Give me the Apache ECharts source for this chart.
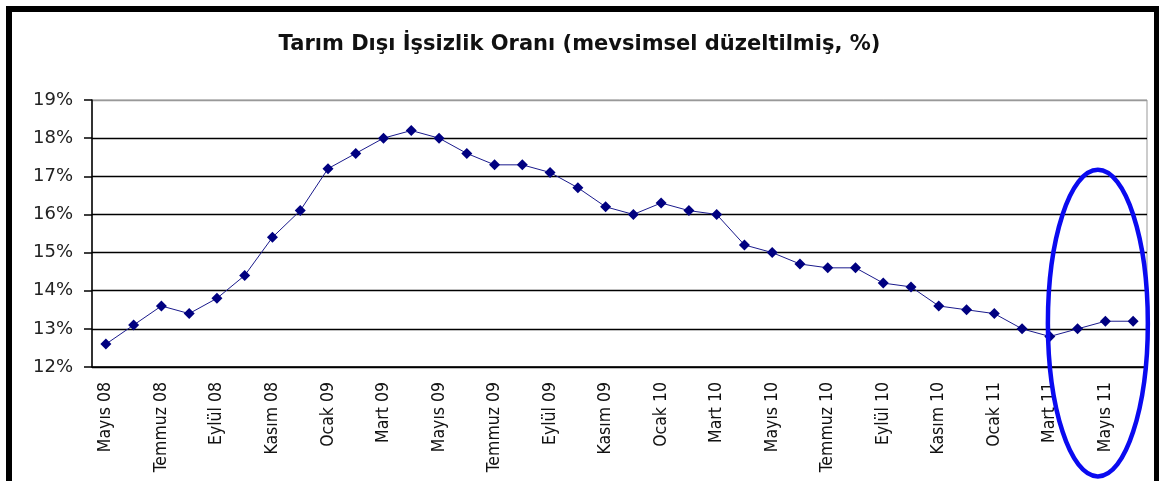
<!DOCTYPE html>
<html>
<head>
<meta charset="utf-8">
<script src="https://cdn.jsdelivr.net/npm/echarts@6/dist/echarts.min.js"></script>
<style>
  html, body { margin: 0; padding: 0; background: #fff; }
  #main { width: 1159px; height: 481px; }
</style>
</head>
<body>
<div id="main"></div>
<script>
// aylar: Mayıs 08 - Haziran 11
const months = [
  'Mayıs 08', 'Haziran 08', 'Temmuz 08', 'Ağustos 08', 'Eylül 08', 'Ekim 08', 'Kasım 08', 'Aralık 08',
  'Ocak 09', 'Şubat 09', 'Mart 09', 'Nisan 09', 'Mayıs 09', 'Haziran 09', 'Temmuz 09', 'Ağustos 09',
  'Eylül 09', 'Ekim 09', 'Kasım 09', 'Aralık 09', 'Ocak 10', 'Şubat 10', 'Mart 10', 'Nisan 10',
  'Mayıs 10', 'Haziran 10', 'Temmuz 10', 'Ağustos 10', 'Eylül 10', 'Ekim 10', 'Kasım 10', 'Aralık 10',
  'Ocak 11', 'Şubat 11', 'Mart 11', 'Nisan 11', 'Mayıs 11', 'Haziran 11'
];

// tarım dışı işsizlik oranı (%)
const rate = [
  12.6, 13.1, 13.6, 13.4, 13.8, 14.4, 15.4, 16.1,
  17.2, 17.6, 18.0, 18.2, 18.0, 17.6, 17.3, 17.3,
  17.1, 16.7, 16.2, 16.0, 16.3, 16.1, 16.0, 15.2,
  15.0, 14.7, 14.6, 14.6, 14.2, 14.1, 13.6, 13.5,
  13.4, 13.0, 12.8, 13.0, 13.2, 13.2
];

const yMin = 12, yMax = 19;

var chart = echarts.init(document.getElementById('main'));

const option = {
  animation: false,
  backgroundColor: '#fff',
  title: {
    text: 'Tarım Dışı İşsizlik Oranı (mevsimsel düzeltilmiş, %)',
    left: 'center',
    top: 29,
    textStyle: {
      fontFamily: 'DejaVu Sans',
      fontSize: 21,
      fontWeight: 'bold',
      color: '#111'
    }
  },
  grid: {
    left: 92,
    right: 12,
    top: 100,
    bottom: 114,
    show: true,
    borderColor: '#999',
    borderWidth: 1
  },
  xAxis: {
    type: 'category',
    data: months,
    boundaryGap: true,
    axisLine: { lineStyle: { color: '#000', width: 1.5 } },
    axisTick: { alignWithLabel: false, interval: 0, length: 5, lineStyle: { color: '#000', width: 1.5 } },
    axisLabel: {
      interval: 1,
      rotate: 90,
      margin: 15,
      fontFamily: 'Liberation Sans Narrow, DejaVu Sans Condensed, Liberation Sans',
      fontSize: 17.5,
      color: '#111'
    }
  },
  yAxis: {
    type: 'value',
    min: yMin,
    max: yMax,
    interval: 1,
    axisLine: { show: true, lineStyle: { color: '#000', width: 1.5 } },
    axisTick: { show: true, length: 8, lineStyle: { color: '#000', width: 1.5 } },
    axisLabel: {
      margin: 19,
      fontFamily: 'DejaVu Sans',
      fontSize: 18,
      color: '#222',
      formatter: v => v + '%'
    },
    splitLine: {
      lineStyle: {
        color: ['#000', '#000', '#000', '#000', '#000', '#000', '#000', '#999'],
        width: 1.3
      }
    }
  },
  series: [{
    type: 'line',
    data: rate,
    symbol: 'diamond',
    symbolSize: 11,
    itemStyle: { color: '#000080' },
    lineStyle: { color: '#1a1a8c', width: 1 }
  }]
};

chart.setOption(option);

// dış çerçeve ve mavi elips (işaretleme)
const c0 = chart.convertToPixel({ xAxisIndex: 0 }, 0);
const c1 = chart.convertToPixel({ xAxisIndex: 0 }, 1);
const step = c1 - c0;
const cx = chart.convertToPixel({ xAxisIndex: 0 }, 36) - step * 0.27;
const cy = chart.convertToPixel({ yAxisIndex: 0 }, 13.15);
const perUnit = chart.convertToPixel({ yAxisIndex: 0 }, 12) - chart.convertToPixel({ yAxisIndex: 0 }, 13);

chart.setOption({
  graphic: [
    {
      type: 'rect',
      shape: { x: 9, y: 9, width: 1148, height: 520 },
      style: { fill: null, stroke: '#000', lineWidth: 6 },
      z: 100
    },
    {
      type: 'ellipse',
      shape: { cx: cx, cy: cy, rx: step * 1.8, ry: perUnit * 4.02 },
      style: { fill: null, stroke: '#0a0af0', lineWidth: 4.5 },
      z: 100
    }
  ]
});
</script>
</body>
</html>
